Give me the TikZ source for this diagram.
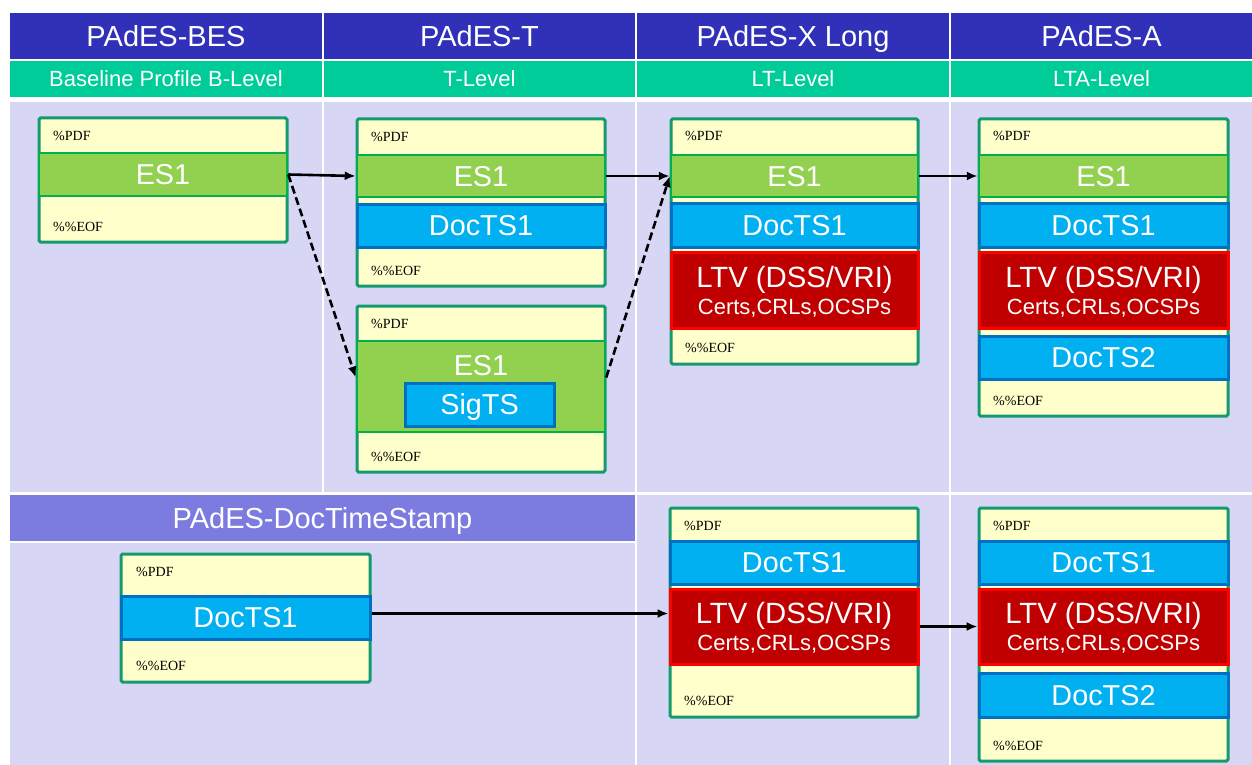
\documentclass[tikz,border=0pt]{standalone}
\usepackage{fontspec}
\setmainfont{Liberation Serif}
\setsansfont{Liberation Sans}
\usetikzlibrary{arrows.meta}
\definecolor{hdrblue}{HTML}{3030B8}
\definecolor{hdrgreen}{HTML}{00CC99}
\definecolor{lav}{HTML}{D7D7F5}
\definecolor{purp}{HTML}{7B7BE0}
\definecolor{boxedge}{HTML}{149A6E}
\definecolor{paper}{HTML}{FFFFCC}
\definecolor{esfill}{HTML}{92D050}
\definecolor{esedge}{HTML}{00B050}
\definecolor{tsfill}{HTML}{00B0F0}
\definecolor{tsedge}{HTML}{0070C0}
\definecolor{ltvfill}{HTML}{C00000}
\definecolor{ltvedge}{HTML}{FF0000}
\newcommand{\mkblk}[7]{%
  \pgfmathsetmacro{\mkcx}{(#2+#4)/2}%
  \pgfmathsetmacro{\mkcy}{(#3+#5)/2}%
  \pgfmathsetmacro{\mkw}{#4-#2}%
  \pgfmathsetmacro{\mkh}{#5-#3}%
  \node[#6,minimum width=\mkw pt,minimum height=\mkh pt] (#1) at (\mkcx,\mkcy) {#7};}
\tikzset{
  cell/.style={inner sep=0pt, outer sep=0pt, text=white, text depth=0pt},
  hdr/.style={cell, fill=hdrblue, font=\sffamily\fontsize{29}{33}\selectfont},
  sub/.style={cell, fill=hdrgreen, font=\sffamily\fontsize{22}{26}\selectfont},
  bodycell/.style={inner sep=0pt, outer sep=0pt, fill=lav},
  docbox/.style={draw=boxedge, fill=paper, line width=3pt, rounded corners=1.5pt, inner sep=0pt},
  band/.style={inner sep=0pt, line width=2.5pt, text=white, text depth=0pt, font=\sffamily\fontsize{28.8}{32}\selectfont, align=center},
  esband/.style={band, fill=esfill, draw=esedge},
  tsband/.style={band, fill=tsfill, draw=tsedge, line width=3pt},
  ltvband/.style={band, fill=ltvfill, draw=ltvedge, line width=3pt, font=\sffamily\fontsize{29.3}{32}\selectfont},
  bandtext/.style={inner sep=0pt, text=white, text depth=0pt, font=\sffamily\fontsize{28.8}{32}\selectfont},
  pdftag/.style={inner sep=0pt, anchor=base west, font=\fontsize{14}{16}\selectfont},
  link/.style={line width=2.6pt, -{Latex[length=11pt,width=9pt]}},
  dlink/.style={link, dash pattern=on 8pt off 4pt}
}
\newcommand{\ltvtext}{LTV (DSS/VRI)\\[-5pt]{\fontsize{22}{25}\selectfont Certs,CRLs,OCSPs}}
\begin{document}
\begin{tikzpicture}[x=1pt,y=-1pt]
\fill[white] (0,0) rectangle (1252,765);
\useasboundingbox (0,0) rectangle (1252,765);
% header rows
\mkblk{h1}{10}{13}{322}{59}{hdr}{PAdES-BES}
\mkblk{h2}{324}{13}{635}{59}{hdr}{PAdES-T}
\mkblk{h3}{637}{13}{949}{59}{hdr}{PAdES-X Long}
\mkblk{h4}{951}{13}{1252}{59}{hdr}{PAdES-A}
\mkblk{s1}{10}{61}{322}{97}{sub}{Baseline Profile B-Level}
\mkblk{s2}{324}{61}{635}{97}{sub}{T-Level}
\mkblk{s3}{637}{61}{949}{97}{sub}{LT-Level}
\mkblk{s4}{951}{61}{1252}{97}{sub}{LTA-Level}
% body cells
\mkblk{b1}{10}{102}{322}{492}{bodycell}{}
\mkblk{b2}{324}{102}{635}{492}{bodycell}{}
\mkblk{b3}{637}{102}{949}{492}{bodycell}{}
\mkblk{b4}{951}{102}{1252}{492}{bodycell}{}
\mkblk{dts}{10}{495}{635}{541}{hdr, fill=purp}{PAdES-DocTimeStamp}
\mkblk{q12}{10}{543}{635}{765}{bodycell}{}
\mkblk{q3}{637}{495}{949}{765}{bodycell}{}
\mkblk{q4}{951}{495}{1252}{765}{bodycell}{}
% Box A
\mkblk{A}{39}{118}{287}{242}{docbox}{}
\mkblk{A-es}{39}{153}{287}{196}{esband}{ES1}
\node[pdftag] (A-pdf) at (53,140) {\%PDF};
\node[pdftag] (A-eof) at (53,231) {\%\%EOF};
% Box B
\mkblk{B}{357}{119}{605}{286}{docbox}{}
\mkblk{B-es}{357}{155}{605}{197}{esband}{ES1}
\mkblk{B-ts}{357}{204}{605}{247}{tsband}{DocTS1}
\node[pdftag] (B-pdf) at (371,141) {\%PDF};
\node[pdftag] (B-eof) at (371,275) {\%\%EOF};
% Box C
\mkblk{C}{357}{306}{605}{472}{docbox}{}
\mkblk{C-es}{357}{341}{605}{432}{esband}{}
\node[bandtext] (C-estext) at (481,365) {ES1};
\mkblk{C-sig}{405}{383}{554}{426}{tsband}{SigTS}
\node[pdftag] (C-pdf) at (371,328) {\%PDF};
\node[pdftag] (C-eof) at (371,461) {\%\%EOF};
% Box D
\mkblk{D}{671}{119}{918}{364}{docbox}{}
\mkblk{D-es}{671}{155}{918}{197}{esband}{ES1}
\mkblk{D-ts}{671}{203}{918}{247}{tsband}{DocTS1}
\mkblk{D-ltv}{671}{252}{918}{328}{ltvband}{\ltvtext}
\node[pdftag] (D-pdf) at (685,140) {\%PDF};
\node[pdftag] (D-eof) at (685,352) {\%\%EOF};
% Box E
\mkblk{E}{979}{119}{1228}{416}{docbox}{}
\mkblk{E-es}{979}{155}{1228}{197}{esband}{ES1}
\mkblk{E-ts}{979}{203}{1228}{247}{tsband}{DocTS1}
\mkblk{E-ltv}{979}{252}{1228}{328}{ltvband}{\ltvtext}
\mkblk{E-ts2}{979}{336}{1228}{379}{tsband}{DocTS2}
\node[pdftag] (E-pdf) at (993,140) {\%PDF};
\node[pdftag] (E-eof) at (993,405) {\%\%EOF};
% Box F
\mkblk{F}{121}{554}{370}{682}{docbox}{}
\mkblk{F-ts}{121}{596}{370}{639}{tsband}{DocTS1}
\node[pdftag] (F-pdf) at (136,576) {\%PDF};
\node[pdftag] (F-eof) at (136,670) {\%\%EOF};
% Box G
\mkblk{G}{670}{508}{918}{717}{docbox}{}
\mkblk{G-ts}{670}{541}{918}{584}{tsband}{DocTS1}
\mkblk{G-ltv}{670}{589}{918}{664}{ltvband}{\ltvtext}
\node[pdftag] (G-pdf) at (684,530) {\%PDF};
\node[pdftag] (G-eof) at (684,705) {\%\%EOF};
% Box H
\mkblk{H}{979}{508}{1228}{761}{docbox}{}
\mkblk{H-ts}{979}{541}{1228}{584}{tsband}{DocTS1}
\mkblk{H-ltv}{979}{589}{1228}{664}{ltvband}{\ltvtext}
\mkblk{H-ts2}{979}{673}{1228}{717}{tsband}{DocTS2}
\node[pdftag] (H-pdf) at (993,530) {\%PDF};
\node[pdftag] (H-eof) at (993,750) {\%\%EOF};
% connectors
\draw[link] (A-es.east) -- (B-es.west);
\draw[dlink] (A-es.east) -- ([yshift=9pt]C-es.west);
\draw[link] (B-es.east) -- (D-es.west);
\draw[dlink] ([yshift=9pt]C-es.east) -- (D-es.west);
\draw[link] (D-es.east) -- (E-es.west);
\draw[link] ([yshift=4pt]F-ts.east) -- ([yshift=4pt]F-ts.east -| G-ltv.west);
\draw[link] (G-ltv.east) -- (H-ltv.west);
\end{tikzpicture}
\end{document}
